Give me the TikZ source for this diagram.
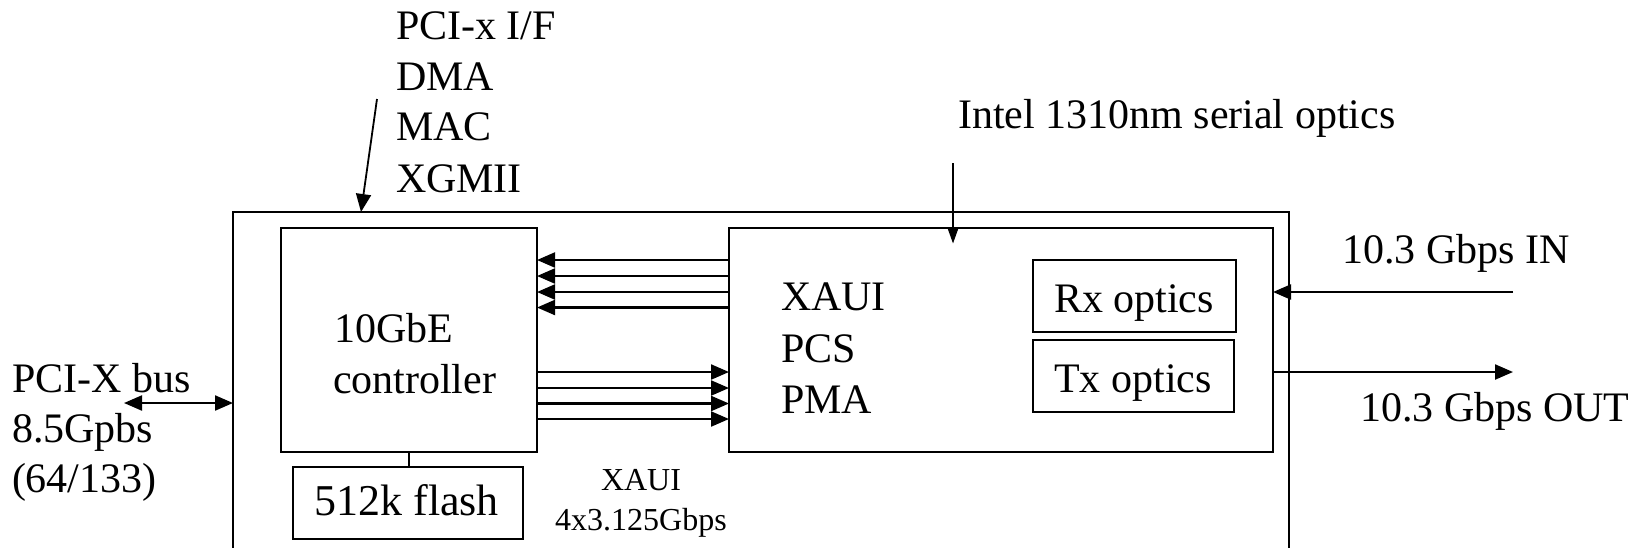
\documentclass[tikz,border=0pt]{standalone}
\usepackage{fontspec}
\setmainfont{Liberation Serif}
\usetikzlibrary{arrows.meta}
\begin{document}
\begin{tikzpicture}[x=0.5pt,y=-0.5pt,
  box/.style={draw,line width=1.3pt,inner sep=0,outer sep=0,anchor=north west},
  lbl/.style={inner sep=0,outer sep=0,anchor=base west,font=\fontsize{21pt}{25pt}\selectfont},
  clbl/.style={inner sep=0,outer sep=0,anchor=base,font=\fontsize{21pt}{25pt}\selectfont},
  slbl/.style={inner sep=0,outer sep=0,anchor=base,font=\fontsize{16pt}{19pt}\selectfont},
  tip/.tip={Triangle[length=9pt,width=7.5pt]},
  arr/.style={line width=1.1pt,-tip},
  darr/.style={line width=1.1pt,tip-tip}]
\useasboundingbox (0,0) rectangle (1641,547);

% boxes
\node[box,minimum width=528pt,minimum height=184pt] (outer) at (233,212) {};
\node[box,minimum width=128pt,minimum height=112pt] (ctrl) at (281,228) {};
\node[box,minimum width=272pt,minimum height=112pt] (phy) at (729,228) {};
\node[box,line width=1.1pt,minimum width=101.5pt,minimum height=36pt] (rx) at (1033,260) {};
\node[box,line width=1.1pt,minimum width=100.5pt,minimum height=36pt] (tx) at (1033,340) {};
\node[box,line width=1.1pt,minimum width=115pt,minimum height=36pt] (flash) at (293,467) {};

% texts in boxes
\node[lbl] (t10g) at (334,342) {10GbE};
\node[lbl] (tctrl) at (333,393) {controller};
\node[lbl] (txaui) at (781,310) {XAUI};
\node[lbl] (tpcs) at (781,362) {PCS};
\node[lbl] (tpma) at (781,413) {PMA};
\node[clbl] (trx) at (1134,312) {Rx optics};
\node[clbl] (ttx) at (1133,392) {Tx optics};
\node[inner sep=0,anchor=base west,font=\fontsize{22pt}{26pt}\selectfont] (tflash) at (314,515) {512k flash};

% outside labels
\node[lbl] (l1) at (396,39.5) {PCI-x I/F};
\node[lbl] (l2) at (396,90) {DMA};
\node[lbl] (l3) at (396,140.5) {MAC};
\node[lbl] (l4) at (396,192) {XGMII};
\node[lbl] (lintel) at (958,128) {Intel 1310nm serial optics};
\node[lbl] (lin) at (1342,263) {10.3 Gbps IN};
\node[lbl] (lout) at (1360,421) {10.3 Gbps OUT};
\node[lbl] (lbus1) at (12,392) {PCI-X bus};
\node[lbl] (lbus2) at (12,442) {8.5Gpbs};
\node[lbl] (lbus3) at (12,492) {(64/133)};
\node[slbl] (lx1) at (641,490) {XAUI};
\node[slbl] (lx2) at (641,530) {4x3.125Gbps};

% connectors
\foreach \y in {260,276,292,307.5}
  \draw[arr] (phy.west |- 0,\y) -- (ctrl.east |- 0,\y);
\foreach \y in {372,388,403.5,419}
  \draw[arr] (ctrl.east |- 0,\y) -- (phy.west |- 0,\y);

\draw[line width=1pt] (ctrl.south) -- (ctrl.south |- flash.north);

\coordinate (busL) at (124,403);
\draw[darr] (busL) -- (busL -| outer.west);

\coordinate (inS) at (1513,292);
\draw[arr] (inS) -- (inS -| phy.east);
\coordinate (outE) at (1513,372);
\draw[arr] (outE -| phy.east) -- (outE);

\coordinate (intel) at (953,163);
\draw[line width=0.8pt,-{Triangle[length=8pt,width=5.5pt]}] (intel) -- ([yshift=-7.75pt]intel |- phy.north);

\coordinate (pcif) at (377,99);
\draw[line width=0.9pt,-{Triangle[length=9pt,width=7.5pt]}] (pcif) -- ([xshift=64pt]outer.north west);
\end{tikzpicture}
\end{document}
